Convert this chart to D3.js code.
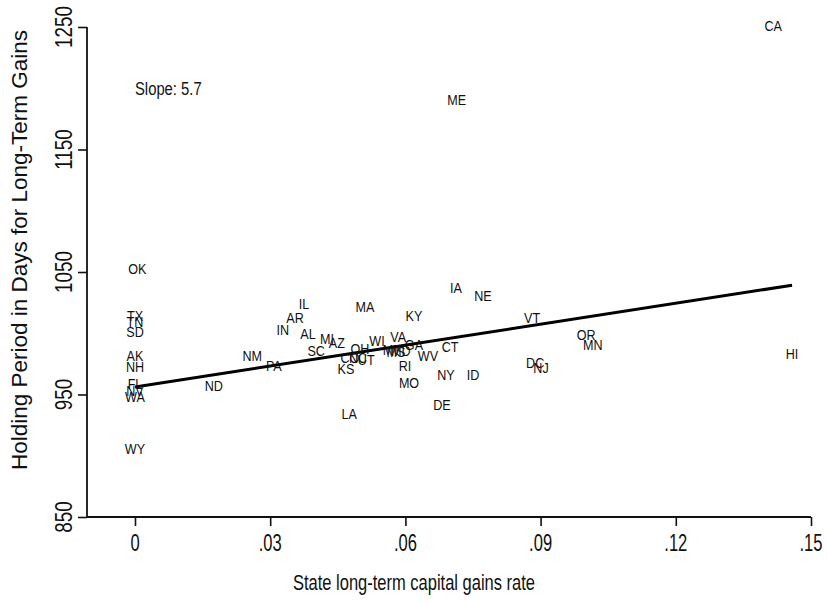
<!DOCTYPE html>
<html><head><meta charset="utf-8">
<script src="https://cdn.jsdelivr.net/npm/d3@7"></script>
<style>
html,body{margin:0;padding:0;background:#fff;}
text{font-family:"Liberation Sans",Arial,Helvetica,sans-serif;fill:#111;}
</style></head>
<body>
<svg id="chart" width="828" height="602"></svg>
<script>
// ---- data ----
const states = ["CA","ME","OK","TX","TN","SD","AK","NH","FL","NV","WA","WY","ND","NM","PA","IN","AR","IL","AL","MI","AZ","SC","MA","KY","IA","NE","VT","OR","MN","HI","DC","NJ","CT","WV","ID","NY","DE","MO","RI","LA","KS","WI","VA","GA","MD","MT","MS","OH","CO","UT","NC"];
const rates  = [0.1416,0.0714,0.0005,0,0,0,0,0,0,0,0,0,0.0175,0.026,0.0308,0.0328,0.0355,0.0375,0.0384,0.0426,0.0448,0.0402,0.051,0.0619,0.0712,0.0772,0.0881,0.1001,0.1016,0.1458,0.0888,0.0901,0.0699,0.065,0.075,0.069,0.0681,0.0608,0.0599,0.0475,0.0468,0.0537,0.0584,0.0619,0.059,0.057,0.0579,0.0499,0.0477,0.0513,0.0495];
const days   = [1250.8,1190.4,1052.4,1014.1,1009.2,1001,981.4,972.4,958.6,952.9,948,905.5,957,981.4,973.3,1002.7,1012.4,1023.9,999.4,995.3,992,985.5,1021.4,1014.1,1036.9,1030.4,1012.4,998.6,990.4,983.1,975.7,971.6,988.8,981.4,965.9,965.9,941.4,959.4,973.3,934.1,970.8,993.7,996.9,990.4,985.5,986.3,984.7,987.1,979.8,978.2,979.8];
const xTicks = [0,0.03,0.06,0.09,0.12,0.15];
const xTickLabels = ["0",".03",".06",".09",".12",".15"];
const yTicks = [850,950,1050,1150,1250];
const fitIntercept = 956.1;
const fitSlope = 570; // days per unit rate (5.7 per percentage point)
const slopeLabel = "Slope: 5.7";
const slopeAt = [0, 1200];
const xTitle = "State long-term capital gains rate";
const yTitle = "Holding Period in Days for Long-Term Gains";

// ---- layout ----
const svg = d3.select("#chart");
const axisX = 87;     // y axis position
const x = d3.scaleLinear().domain([0, 0.15]).range([135, 811]);
const y = d3.scaleLinear().domain([850, 1250]).range([517, 27]);
const ink = "#111";

// axes lines
const xAxis = d3.axisBottom(x).tickValues(xTicks).tickSize(9).tickFormat("");
const gx = svg.append("g").attr("transform", `translate(0,${y(850)})`).call(xAxis);
gx.select(".domain").remove();
gx.selectAll(".tick line").attr("stroke", ink).attr("stroke-width", 1.6);
svg.append("line").attr("x1", axisX).attr("x2", x(0.15)).attr("y1", y(850)).attr("y2", y(850))
   .attr("stroke", ink).attr("stroke-width", 1.8);

const yAxis = d3.axisLeft(y).tickValues(yTicks).tickSize(9).tickFormat("");
const gy = svg.append("g").attr("transform", `translate(${axisX},0)`).call(yAxis);
gy.select(".domain").remove();
gy.selectAll(".tick line").attr("stroke", ink).attr("stroke-width", 1.6);
svg.append("line").attr("x1", axisX).attr("x2", axisX).attr("y1", y(1250)).attr("y2", y(850))
   .attr("stroke", ink).attr("stroke-width", 1.8);

// tick labels
svg.append("g").selectAll("text").data(xTicks).join("text")
  .attr("transform", (d) => `translate(${x(d)},551) scale(0.72,1)`)
  .attr("text-anchor", "middle").attr("font-size", 23)
  .text((d, i) => xTickLabels[i]);

svg.append("g").selectAll("text").data(yTicks).join("text")
  .attr("transform", d => `translate(72,${y(d)}) rotate(-90) scale(0.82,1)`)
  .attr("text-anchor", "middle").attr("font-size", 23)
  .text(d => d);

// axis titles
svg.append("text").attr("transform", "translate(414,590) scale(0.75,1)")
  .attr("text-anchor", "middle").attr("font-size", 22).text(xTitle);
svg.append("text").attr("transform", "translate(27,250) rotate(-90)")
  .attr("text-anchor", "middle").attr("font-size", 22.5).text(yTitle);

// fit line
const xr = d3.extent(rates);
svg.append("line")
  .attr("x1", x(0)).attr("y1", y(fitIntercept + fitSlope * 0))
  .attr("x2", x(xr[1])).attr("y2", y(fitIntercept + fitSlope * xr[1]))
  .attr("stroke", "#000").attr("stroke-width", 3);

// slope text
svg.append("text").attr("transform", `translate(${x(slopeAt[0])},${y(slopeAt[1])}) scale(0.78,1)`)
  .attr("dy", "0.36em").attr("font-size", 19).text(slopeLabel);

// state labels
svg.append("g").selectAll("text").data(states).join("text")
  .attr("transform", (d, i) => `translate(${x(rates[i])},${y(days[i])}) scale(0.9,1)`)
  .attr("text-anchor", "middle").attr("dy", "0.36em")
  .attr("font-size", 14).text(d => d);
</script>
</body></html>
